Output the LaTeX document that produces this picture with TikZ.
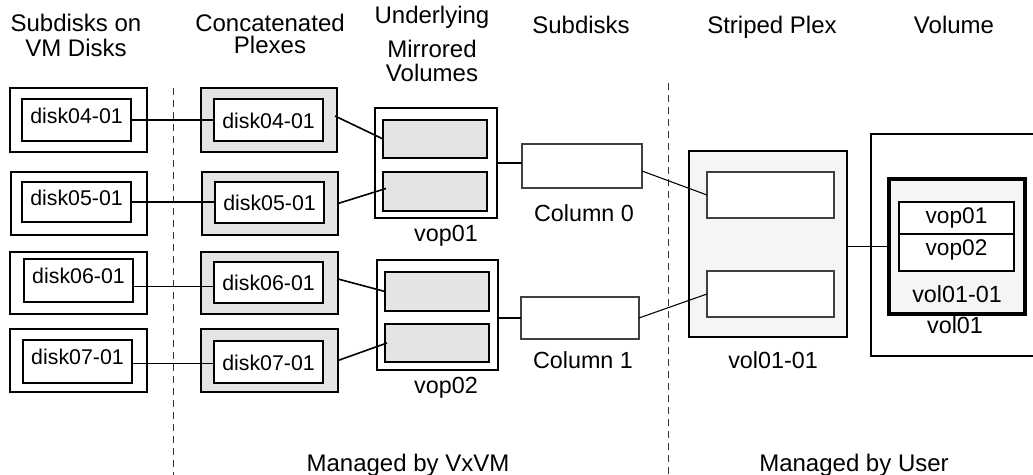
\documentclass[tikz,border=0pt]{standalone}
\usepackage{fontspec}
\setmainfont{Liberation Sans}
\usetikzlibrary{calc}
\newcommand{\hdrfont}{\fontsize{18}{21}\selectfont}
\newcommand{\lblfont}{\fontsize{17.5}{20}\selectfont}
\newcommand{\dskfont}{\fontsize{16}{18}\selectfont}
\newcommand{\cellfont}{\fontsize{17}{20}\selectfont}
% name, style, x1, y1, x2, y2 (pixel coordinates)
\newcommand{\pxbox}[6]{\node[#2, minimum width={((#5)-(#3))*0.75pt}, minimum height={((#6)-(#4))*0.75pt}] (#1) at ({((#3)+(#5))/2},{((#4)+(#6))/2})}
\definecolor{plexgray}{HTML}{E4E4E4}
\definecolor{lightfill}{HTML}{F5F5F5}
\begin{document}
\begin{tikzpicture}[x=0.75pt,y=-0.75pt,
  every node/.style={inner sep=0pt, outer sep=0pt},
  txt/.style={anchor=base, inner sep=0pt},
  hdr/.style={txt, font=\hdrfont},
  lbl/.style={txt, font=\lblfont},
  outerbox/.style={draw, line width=1.1pt, fill=white},
  innerbox/.style={draw, line width=1.1pt, fill=white, font=\dskfont, text height=9pt, text depth=4.5pt},
  concatbox/.style={draw, line width=1.1pt, fill=plexgray},
  cinnerbox/.style={draw, line width=1.1pt, fill=white, font=\dskfont, text height=12pt, text depth=0pt},
  vopbox/.style={draw, line width=1.1pt, fill=white},
  subbox/.style={draw, line width=1.2pt, fill=plexgray},
  colbox/.style={draw=black!75, line width=0.8pt, fill=white},
  stripebox/.style={draw, line width=1.3pt, fill=lightfill},
  sinnerbox/.style={draw=black!75, line width=0.9pt, fill=white},
  volbox/.style={draw, line width=1.2pt, fill=white},
  plexbox/.style={draw, line width=2.6pt, fill=lightfill},
  cellbox/.style={draw, line width=1pt, fill=white, font=\cellfont},
  wire/.style={line width=0.8pt},
  wireb/.style={line width=1.2pt},
  divider/.style={draw=black!80, line width=0.75pt, dash pattern=on 5.25pt off 3.75pt}
]
\useasboundingbox (0,0) rectangle (1033,475);

% headers
\node[hdr] (h1a) at (76,31) {Subdisks on};
\node[hdr] (h1b) at (76,56) {VM Disks};
\node[hdr] (h2a) at (270,31) {Concatenated};
\node[hdr] (h2b) at (270,53) {Plexes};
\node[hdr] (h3a) at (432,23) {Underlying};
\node[hdr] (h3b) at (432,57) {Mirrored};
\node[hdr] (h3c) at (432,81) {Volumes};
\node[hdr] (h4) at (581,33) {Subdisks};
\node[hdr] (h5) at (772,33) {Striped Plex};
\node[hdr] (h6) at (954,33) {Volume};

% dividers
\coordinate (dA1) at (173,88);
\coordinate (dA2) at (173,476);
\coordinate (dB1) at (668,83);
\coordinate (dB2) at (668,476);
\draw[divider] (dA1) -- (dA2);
\draw[divider] (dB1) -- (dB2);

% subdisks on VM disks
\pxbox{lo4}{outerbox}{10}{88}{147}{152} {};
\pxbox{lo5}{outerbox}{11}{172}{147}{235} {};
\pxbox{lo6}{outerbox}{10}{252}{147}{314} {};
\pxbox{lo7}{outerbox}{10}{329}{147}{392} {};
\pxbox{li4}{innerbox}{22}{99}{131}{141} {disk04-01};
\pxbox{li5}{innerbox}{22}{182}{131}{222} {disk05-01};
\pxbox{li6}{innerbox}{24}{259}{133}{302} {disk06-01};
\pxbox{li7}{innerbox}{23}{340}{132}{383} {disk07-01};

% concatenated plexes
\pxbox{co4}{concatbox}{201}{88}{337}{152} {};
\pxbox{co5}{concatbox}{202}{172}{338}{235} {};
\pxbox{co6}{concatbox}{201}{252}{338}{314} {};
\pxbox{co7}{concatbox}{201}{329}{338}{392} {};
\pxbox{ci4}{cinnerbox}{214}{99}{323}{141} {disk04-01};
\pxbox{ci5}{cinnerbox}{215}{182}{324}{223} {disk05-01};
\pxbox{ci6}{cinnerbox}{214}{262}{323}{303} {disk06-01};
\pxbox{ci7}{cinnerbox}{214}{341}{323}{383} {disk07-01};

% underlying mirrored volumes
\pxbox{v1}{vopbox}{375}{108}{497}{218} {};
\pxbox{v1a}{subbox}{383}{120}{487}{158} {};
\pxbox{v1b}{subbox}{383}{172}{487}{211} {};
\pxbox{v2}{vopbox}{377}{260}{498}{370} {};
\pxbox{v2a}{subbox}{385}{272}{489}{311} {};
\pxbox{v2b}{subbox}{385}{324}{489}{362} {};
\node[lbl] (v1l) at (446,241) {vop01};
\node[lbl] (v2l) at (446,393) {vop02};

% subdisks (columns)
\pxbox{col0}{colbox}{522}{144}{642}{188} {};
\pxbox{col1}{colbox}{521}{297}{639}{339} {};
\node[lbl] (col0l) at (584,221) {Column 0};
\node[lbl] (col1l) at (583,368) {Column 1};

% striped plex
\pxbox{sp}{stripebox}{689}{151}{847}{337} {};
\pxbox{s1}{sinnerbox}{707}{172}{834}{218} {};
\pxbox{s2}{sinnerbox}{707}{271}{834}{317} {};
\node[lbl] (spl) at (773,368) {vol01-01};

% volume
\pxbox{vol}{volbox}{871}{134}{1050}{356} {};
\pxbox{pl}{plexbox}{889}{179}{1025}{314} {};
\pxbox{c1}{cellbox, text height=9pt, text depth=1.5pt}{899}{202}{1014}{234} {vop01};
\pxbox{c2}{cellbox, text height=9pt, text depth=5.25pt}{899}{234}{1014}{271} {vop02};
\node[lbl] (pll) at (957,302) {vol01-01};
\node[lbl] (voll) at (955,333) {vol01};

% footer
\node[hdr] (f1) at (408,471) {Managed by VxVM};
\node[hdr] (f2) at (854,471) {Managed by User};

% connectors: disks to concatenated plexes
\coordinate (p4) at (li4.east);
\coordinate (p5) at (li5.east);
\coordinate (p6) at ($(li6.east)+(0,6)$);
\coordinate (p7) at ($(li7.east)+(0,2)$);
\draw[wire] (p4) -- (p4 -| ci4.west);
\draw[wire] (p5) -- (p5 -| ci5.west);
\draw[wire] (p6) -- (p6 -| ci6.west);
\draw[wire] (p7) -- (p7 -| ci7.west);

% plexes to mirrored volumes
\coordinate (q4) at ($(co4.east)+(-2,-4)$);
\coordinate (q6) at ($(co6.east)+(0,-4)$);
\coordinate (r5) at ($(v1b.west)+(3,-3)$);
\coordinate (r7) at ($(v2b.west)+(2,0)$);
\draw[wireb] (q4) -- (v1a.west);
\draw[wireb] (co5.east) -- (r5);
\draw[wireb] (q6) -- (v2a.west);
\draw[wireb] (co7.east) -- (r7);

% mirrored volumes to columns
\draw[wireb] (v1.east) -- (v1.east -| col0.west);
\draw[wireb] (col1.west -| v2.east) -- (col1.west);

% columns to striped plex
\coordinate (k0) at ($(col0.east)+(0,5)$);
\draw[wire] (k0) -- (s1.west);
\draw[wire] (col1.east) -- (s2.west);

% striped plex to volume
\draw[wire] (pl.west -| sp.east) -- (pl.west);
\end{tikzpicture}
\end{document}
